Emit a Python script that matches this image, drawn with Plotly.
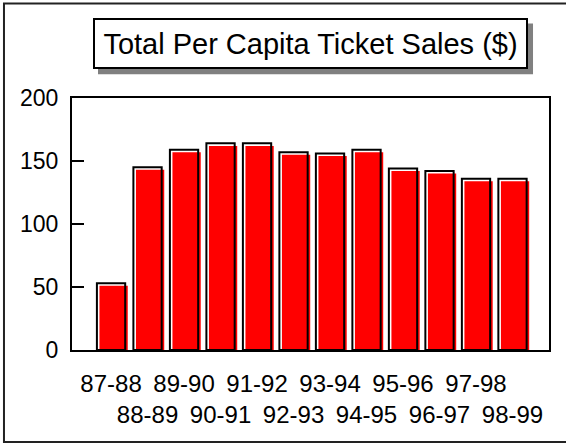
import plotly.graph_objects as go

seasons = ["87-88", "88-89", "89-90", "90-91", "91-92", "92-93",
           "93-94", "94-95", "95-96", "96-97", "97-98", "98-99"]
sales = [53, 145, 159, 164, 164, 157, 156, 159, 144, 142, 136, 136]
y_ticks = [0, 50, 100, 150, 200]
title_text = "Total Per Capita Ticket Sales ($)"

tick_text = [s if i % 2 == 0 else "<br>" + s for i, s in enumerate(seasons)]

FONT = "Arial, Liberation Sans, sans-serif"

fig = go.Figure()
# red fill, shifted slightly right and down (shadow look)
fig.add_trace(go.Bar(
    x=seasons, y=sales, base=-2,
    width=0.775, offset=-0.3875 + 0.07,
    marker=dict(color="#ff0000", line=dict(width=0)),
    cliponaxis=False, hoverinfo="skip",
))
# black outline on top
fig.add_trace(go.Bar(
    x=seasons, y=sales,
    width=0.775, offset=-0.3875,
    marker=dict(color="rgba(0,0,0,0)", line=dict(color="black", width=2)),
    hoverinfo="skip",
))

fig.update_layout(
    width=566, height=444,
    margin=dict(l=72, r=17, t=98, b=94),
    barmode="overlay",
    showlegend=False,
    plot_bgcolor="white", paper_bgcolor="white",
    font=dict(family=FONT, size=23, color="black"),
)
fig.update_xaxes(
    type="category", range=[-1.07, 12.0],
    tickmode="array", tickvals=seasons, ticktext=tick_text,
    tickangle=0,
    ticks="", showline=True, linecolor="black", linewidth=2, mirror=True,
    showgrid=False, ticklabelstandoff=11,
    tickfont=dict(family=FONT, size=24, color="black"),
)
fig.update_yaxes(
    range=[0, 200], tickmode="array", tickvals=y_ticks,
    ticks="inside", ticklen=12, tickwidth=2, tickcolor="black",
    showline=True, linecolor="black", linewidth=2, mirror=True,
    showgrid=False, zeroline=False, ticklabelstandoff=7,
    tickfont=dict(family=FONT, size=23, color="black"),
)

# outer frame
fig.add_shape(type="rect", xref="paper", yref="paper",
              x0=-0.1426, x1=1.044, y0=-0.3646, y1=1.3753,
              line=dict(color="#222", width=2), layer="below")

# title box shadow
fig.add_shape(type="rect", xref="paper", yref="paper",
              x0=0.0545, x1=0.9665, y0=1.0939, y1=1.2961,
              line=dict(width=0), fillcolor="#808080", layer="above")
# title box
fig.add_annotation(
    xref="paper", yref="paper", x=0.5, y=1.2148,
    xanchor="center", yanchor="middle",
    text=title_text, showarrow=False,
    font=dict(family=FONT, size=29, color="black"),
    width=431, height=47, borderpad=0, borderwidth=2,
    bgcolor="white", bordercolor="black",
)

fig.write_html("out.html")
